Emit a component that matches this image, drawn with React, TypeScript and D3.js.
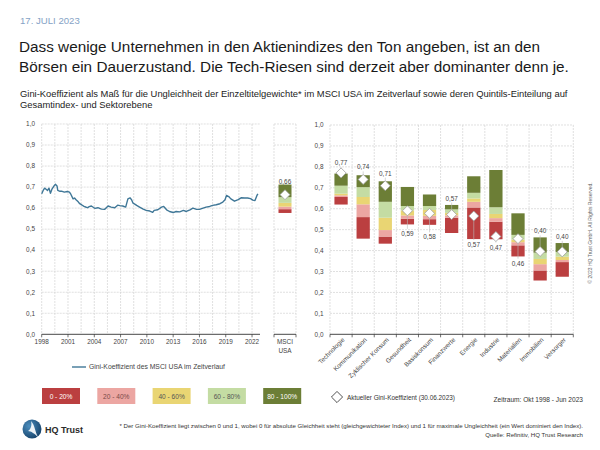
import React from "react";
import * as d3 from "d3";

// ---------- DATA ----------
const lineDates = [
  "1998-10","1998-12","1999-02","1999-04","1999-06","1999-08","1999-10","1999-12",
  "2000-03","2000-05","2000-07","2000-08","2000-11","2001-01","2001-05","2001-09",
  "2001-12","2002-02","2002-05","2002-07","2002-09","2002-12","2003-02","2003-05",
  "2003-08","2003-11","2004-01","2004-03","2004-06","2004-09","2004-11","2005-03",
  "2005-06","2005-08","2005-12","2006-02","2006-05","2006-09","2007-02","2007-06",
  "2007-09","2008-01","2008-05","2008-08","2008-11","2009-01","2009-03","2009-06",
  "2009-08","2009-12","2010-05","2010-09","2011-02","2011-06","2011-08","2012-01",
  "2012-06","2012-09","2013-01","2013-05","2013-10","2014-02","2014-07","2014-12",
  "2015-04","2015-09","2016-01","2016-06","2016-10","2017-03","2017-07","2017-12",
  "2018-04","2018-09","2019-02","2019-06","2019-09","2019-11","2020-02","2020-05",
  "2020-10","2021-03","2021-07","2021-12","2022-04","2022-08","2022-11","2023-02",
  "2023-05","2023-06"
];
const lineValues = [
  0.668,0.684,0.695,0.690,0.684,0.695,0.671,0.690,
  0.706,0.713,0.705,0.684,0.680,0.681,0.676,0.679,
  0.676,0.665,0.644,0.648,0.640,0.630,0.621,0.615,
  0.608,0.604,0.602,0.607,0.610,0.603,0.599,0.602,
  0.598,0.595,0.594,0.600,0.610,0.605,0.602,0.614,
  0.612,0.610,0.605,0.644,0.649,0.640,0.624,0.618,
  0.613,0.605,0.595,0.589,0.586,0.580,0.589,0.592,
  0.605,0.608,0.592,0.584,0.579,0.584,0.582,0.589,
  0.584,0.592,0.600,0.594,0.594,0.600,0.605,0.608,
  0.613,0.616,0.621,0.629,0.640,0.660,0.655,0.644,
  0.633,0.640,0.649,0.648,0.648,0.645,0.638,0.636,
  0.662,0.668
];
const yTickValues = [0, 0.1, 0.2, 0.3, 0.4, 0.5, 0.6, 0.7, 0.8, 0.9, 1.0];
const xTickYears = [1998, 2001, 2004, 2007, 2010, 2013, 2016, 2019, 2022];

const sectors = [
  "Technologie","Kommunikation","Zyklischer Konsum","Gesundheit","Basiskonsum",
  "Finanzwerte","Energie","Industrie","Materialien","Immobilien","Versorger"
];
const p0   = [0.620,0.457,0.433,0.525,0.523,0.484,0.455,0.454,0.372,0.257,0.275];
const p20  = [0.656,0.560,0.467,0.552,0.550,0.557,0.606,0.538,0.425,0.305,0.345];
const p40  = [0.664,0.621,0.498,0.568,0.566,0.568,0.633,0.555,0.440,0.335,0.355];
const p60  = [0.672,0.656,0.557,0.592,0.594,0.580,0.649,0.575,0.452,0.360,0.371];
const p80  = [0.710,0.703,0.633,0.613,0.613,0.597,0.676,0.607,0.475,0.390,0.393];
const p100 = [0.768,0.760,0.731,0.704,0.668,0.618,0.755,0.785,0.578,0.463,0.436];
const current = [0.771,0.740,0.710,0.590,0.578,0.572,0.565,0.467,0.457,0.396,0.394];
const currentLabels = ["0,77","0,74","0,71","0,59","0,58","0,57","0,57","0,47","0,46","0,40","0,40"];

const msciBounds = [0.577, 0.595, 0.607, 0.625, 0.652, 0.712];
const msciCurrent = 0.664;
const msciLabel = "0,66";

const quintileNames = ["0 - 20%", "20 - 40%", "40 - 60%", "60 - 80%", "80 - 100%"];

// ---------- LAYOUT / STYLE ----------
const FONT = "'Liberation Sans', Arial, Helvetica, sans-serif";
const qColors = ["#bb3f40", "#eca6a2", "#e9d573", "#c4dca3", "#6c7e36"];
const qText = ["#ffffff", "#7a4a48", "#555555", "#555555", "#ffffff"];
const labelDy = [-8, -10, -10, 25, 26, -14, 31, 13, 27, -18, -13];
const msciLabelDy = -11;
const gridColor = "#d2d2d2";

function fmt(v: number) {
  return v.toFixed(1).replace(".", ",");
}

export default function App() {
  const parse = d3.timeParse("%Y-%m");
  const lineData = lineDates.map((d, i) => ({ date: parse(d) as Date, value: lineValues[i] }));

  const xL = d3.scaleTime().domain([new Date(1998, 9, 1), new Date(2023, 9, 1)]).range([41.7, 260.8]);
  const yL = d3.scaleLinear().domain([0, 1]).range([334.3, 124]);
  const line = d3.line<{ date: Date; value: number }>().x(d => xL(d.date)).y(d => yL(d.value)).curve(d3.curveLinear);
  const vGrid = d3.range(0, 17).map(i => new Date(1998, 9 + 18 * i, 1));
  const xTicks = xTickYears.map((y, i) => ({ date: new Date(1998 + 3 * i, 9, 1), label: String(y) }));

  const mx0 = 274, mx1 = 296;
  const mBarX = 278.5, mBarW = 13;

  const xR = d3.scaleBand<string>().domain(sectors).range([330, 573.3]).paddingInner(0.4).paddingOuter(0.2);
  const yR = d3.scaleLinear().domain([0, 1]).range([334.3, 125]);
  const step = xR.step();
  const bandEdges = d3.range(0, sectors.length + 1).map(i => 330 + i * step);

  const diamond = d3.symbol().type(d3.symbolSquare).size(50)();
  const diamondBig = d3.symbol().type(d3.symbolSquare).size(62)();

  const bounds = sectors.map((_, i) => [p0[i], p20[i], p40[i], p60[i], p80[i], p100[i]]);

  return (
    <svg width={600} height={450} style={{ position: "absolute", left: 0, top: 0, background: "#fff" }} fontFamily={FONT}>
      <rect x={0} y={0} width={600} height={450} fill="#fff" />
      {/* header */}
      <text x={20} y={24} fontSize={9.6} fill="#86a3c6">17. JULI 2023</text>
      <text x={19} y={52} fontSize={15.3} fill="#1a1a1a">Dass wenige Unternehmen in den Aktienindizes den Ton angeben, ist an den</text>
      <text x={19} y={72} fontSize={15.3} fill="#1a1a1a">Börsen ein Dauerzustand. Die Tech-Riesen sind derzeit aber dominanter denn je.</text>
      <text x={20} y={97} fontSize={9.4} fill="#222">Gini-Koeffizient als Maß für die Ungleichheit der Einzeltitelgewichte* im MSCI USA im Zeitverlauf sowie deren Quintils-Einteilung auf</text>
      <text x={20} y={108} fontSize={9.4} fill="#222">Gesamtindex- und Sektorebene</text>

      {/* left chart grid */}
      {yTickValues.map(v => (
        <g key={"lg" + v}>
          {v > 0 && <line x1={41.7} x2={260} y1={yL(v)} y2={yL(v)} stroke={gridColor} strokeWidth={0.7} strokeDasharray="2,1" />}
          {v > 0 && <line x1={mx0} x2={mx1} y1={yL(v)} y2={yL(v)} stroke={gridColor} strokeWidth={0.7} strokeDasharray="2,1" />}
          <text x={35} y={yL(v) + 2.3} fontSize={6.4} fill="#444" textAnchor="end">{fmt(v)}</text>
        </g>
      ))}
      {vGrid.map((d, i) => (
        <line key={"vg" + i} x1={xL(d)} x2={xL(d)} y1={yL(1)} y2={yL(0)} stroke={gridColor} strokeWidth={0.7} strokeDasharray="2,1" />
      ))}
      <line x1={mx0} x2={mx0} y1={yL(1)} y2={yL(0)} stroke={gridColor} strokeWidth={0.7} strokeDasharray="2,1" />
      <line x1={mx1} x2={mx1} y1={yL(1)} y2={yL(0)} stroke={gridColor} strokeWidth={0.7} strokeDasharray="2,1" />

      {/* left line */}
      <path d={line(lineData) || ""} fill="none" stroke="#3f7797" strokeWidth={1.4} strokeLinejoin="round" />

      {/* left x axis */}
      <line x1={41.7} x2={260} y1={yL(0)} y2={yL(0)} stroke="#333" strokeWidth={0.9} />
      {xTicks.map(t => (
        <g key={"xt" + t.label}>
          <line x1={xL(t.date)} x2={xL(t.date)} y1={yL(0)} y2={yL(0) + 3} stroke="#333" strokeWidth={0.7} />
          <text x={xL(t.date)} y={yL(0) + 9.5} fontSize={6.4} fill="#444" textAnchor="middle">{t.label}</text>
        </g>
      ))}

      {/* MSCI USA panel */}
      <line x1={mx0} x2={mx1} y1={yL(0)} y2={yL(0)} stroke="#333" strokeWidth={0.9} />
      <line x1={mx0} x2={mx0} y1={yL(0)} y2={yL(0) + 3} stroke="#333" strokeWidth={0.7} />
      <line x1={mx1} x2={mx1} y1={yL(0)} y2={yL(0) + 3} stroke="#333" strokeWidth={0.7} />
      {qColors.map((c, q) => (
        <rect key={"mq" + q} x={mBarX} width={mBarW} y={yL(msciBounds[q + 1])} height={yL(msciBounds[q]) - yL(msciBounds[q + 1])} fill={c} />
      ))}
      <path d={diamond} transform={`translate(${mBarX + mBarW / 2},${yL(msciCurrent)}) rotate(45)`} fill="#fff" stroke="#999" strokeWidth={0.7} />
      <text x={mBarX + mBarW / 2} y={yL(msciCurrent) + msciLabelDy} fontSize={6.4} fill="#444" textAnchor="middle">{msciLabel}</text>
      <text x={285} y={344} fontSize={6.4} fill="#444" textAnchor="middle">MSCI</text>
      <text x={285} y={353} fontSize={6.4} fill="#444" textAnchor="middle">USA</text>

      {/* right chart grid */}
      {yTickValues.map(v => (
        <g key={"rg" + v}>
          {v > 0 && <line x1={330} x2={573.3} y1={yR(v)} y2={yR(v)} stroke={gridColor} strokeWidth={0.7} strokeDasharray="2,1" />}
          <text x={323.5} y={yR(v) + 2.3} fontSize={6.4} fill="#444" textAnchor="end">{fmt(v)}</text>
        </g>
      ))}
      {bandEdges.map((x, i) => (
        <line key={"rv" + i} x1={x} x2={x} y1={yR(1)} y2={yR(0)} stroke={gridColor} strokeWidth={0.7} strokeDasharray="2,1" />
      ))}

      {/* bars */}
      {sectors.map((s, i) => {
        const bx = xR(s) as number;
        const bw = xR.bandwidth();
        const cx = bx + bw / 2;
        const b = bounds[i];
        const dy = labelDy[i];
        const cy = yR(current[i]);
        const ly = cy + dy;
        return (
          <g key={s}>
            {qColors.map((c, q) => (
              <rect key={q} x={bx} width={bw} y={yR(b[q + 1])} height={yR(b[q]) - yR(b[q + 1])} fill={c} />
            ))}
            {dy > 0 ? (
              <line x1={cx} x2={cx} y1={cy + 5} y2={ly - 7} stroke="#bbb" strokeWidth={0.6} />
            ) : (
              <line x1={cx} x2={cx} y1={ly + 2} y2={cy - 5} stroke="#bbb" strokeWidth={0.6} />
            )}
            <path d={diamond} transform={`translate(${cx},${cy}) rotate(45)`} fill="#fff" stroke="#999" strokeWidth={0.7} />
            <text x={cx} y={ly} fontSize={6.4} fill="#444" textAnchor="middle">{currentLabels[i]}</text>
          </g>
        );
      })}

      {/* right x axis */}
      <line x1={330} x2={573.3} y1={yR(0)} y2={yR(0)} stroke="#333" strokeWidth={0.9} />
      {bandEdges.map((x, i) => (
        <line key={"rt" + i} x1={x} x2={x} y1={yR(0)} y2={yR(0) + 3} stroke="#333" strokeWidth={0.7} />
      ))}
      {sectors.map(s => {
        const cx = (xR(s) as number) + xR.bandwidth() / 2;
        return (
          <text key={"lbl" + s} transform={`translate(${cx + 4},${yR(0) + 6}) rotate(-45)`} fontSize={6.4} fill="#444" textAnchor="end">{s}</text>
        );
      })}

      {/* line legend */}
      <line x1={72} x2={86} y1={367} y2={367} stroke="#3f7797" strokeWidth={1.4} />
      <text x={89} y={369.4} fontSize={6.8} fill="#444">Gini-Koeffizient des MSCI USA im Zeitverlauf</text>

      {/* quintile legend */}
      {quintileNames.map((n, i) => {
        const x = 42 + i * 55.3;
        return (
          <g key={n}>
            <rect x={x} y={388} width={38} height={16} fill={qColors[i]} />
            <text x={x + 19} y={398.5} fontSize={6.6} fill={qText[i]} textAnchor="middle">{n}</text>
          </g>
        );
      })}

      {/* diamond legend */}
      <path d={diamondBig} transform="translate(337,397) rotate(45)" fill="#fff" stroke="#333" strokeWidth={0.8} />
      <text x={347} y={399.5} fontSize={6.4} fill="#333">Aktueller Gini-Koeffizient (30.06.2023)</text>
      <text x={583} y={402} fontSize={6.6} fill="#333" textAnchor="end">Zeitraum: Okt 1998 - Jun 2023</text>

      {/* copyright */}
      <text transform="translate(592,233) rotate(-90)" fontSize={5} fill="#666" textAnchor="middle">© 2023 HQ Trust GmbH. All Rights Reserved.</text>

      {/* logo */}
      <defs>
        <radialGradient id="lg" cx="35%" cy="35%" r="75%">
          <stop offset="0%" stopColor="#4d8fbf" />
          <stop offset="100%" stopColor="#123e66" />
        </radialGradient>
      </defs>
      <circle cx={32} cy={429} r={9.5} fill="url(#lg)" />
      <path d="M31,421 C35,425 35,432 38,437 C35,434 31,431 28,431 C31,429 32,425 31,421 Z" fill="#fff" opacity={0.9} />
      <text x={45} y={433} fontSize={9} fontWeight={600} fill="#2b2b2b">HQ Trust</text>

      {/* footnotes */}
      <text x={583} y={428} fontSize={6.1} fill="#333" textAnchor="end">* Der Gini-Koeffizient liegt zwischen 0 und 1, wobei 0 für absolute Gleichheit steht (gleichgewichteter Index) und 1 für maximale Ungleichheit (ein Wert dominiert den Index).</text>
      <text x={583} y={437} fontSize={6.1} fill="#333" textAnchor="end">Quelle: Refinitiv, HQ Trust Research</text>
    </svg>
  );
}
